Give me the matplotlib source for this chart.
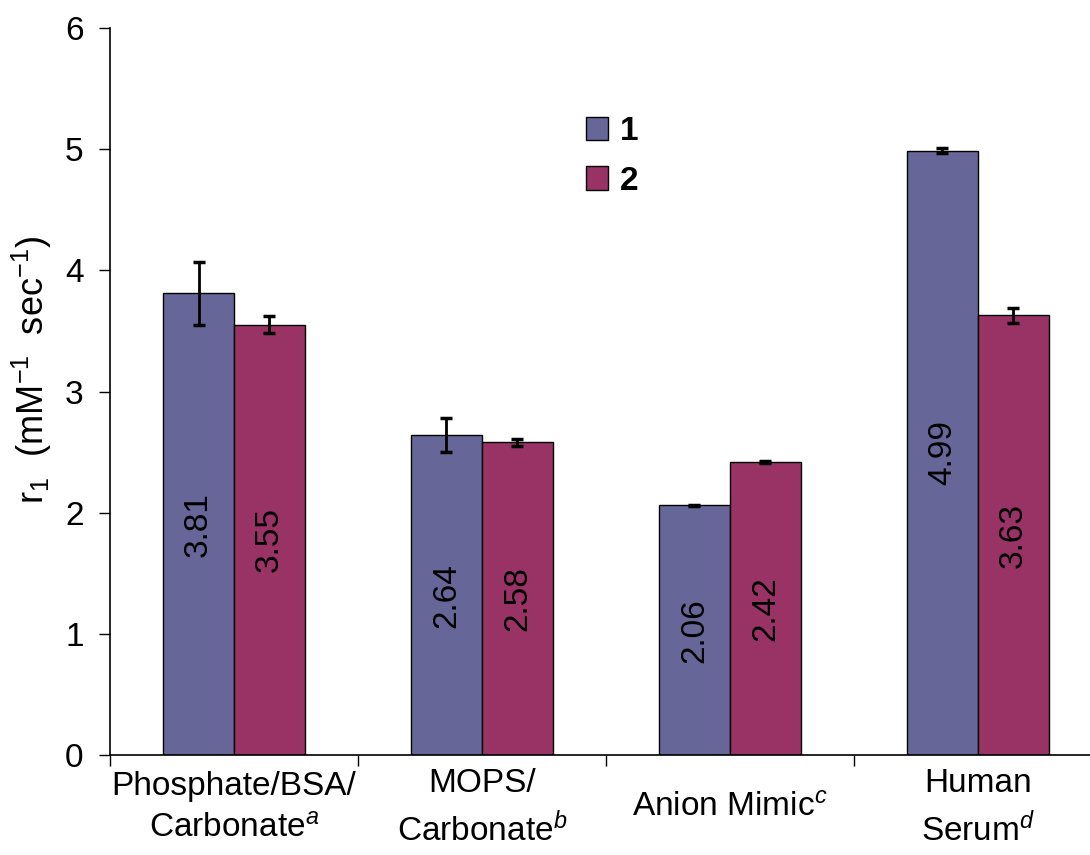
import numpy as np
import matplotlib
matplotlib.use('Agg')
import matplotlib.pyplot as plt

plt.rcParams['font.family'] = ['Liberation Sans', 'DejaVu Sans']
plt.rcParams['mathtext.fontset'] = 'custom'
plt.rcParams['mathtext.rm'] = 'Liberation Sans'
plt.rcParams['mathtext.it'] = 'Liberation Sans:italic'

# data
categories = ['Phosphate/BSA/\nCarbonate$^{a}$', 'MOPS/\nCarbonate$^{b}$',
              'Anion Mimic$^{c}$', 'Human\nSerum$^{d}$']
vals_1 = [3.81, 2.64, 2.06, 4.99]
vals_2 = [3.55, 2.58, 2.42, 3.63]
err_1 = [0.26, 0.14, 0.005, 0.02]
err_2 = [0.07, 0.03, 0.01, 0.06]
series_names = ['1', '2']
col_1 = '#666699'
col_2 = '#993366'

fig = plt.figure(figsize=(10.9, 8.55), dpi=100)
ax = fig.add_axes([0.1009, 0.117, 0.910, 0.850])

x = np.arange(len(categories))
w = 0.286
ax.bar(x - w/2, vals_1, w, color=col_1, edgecolor='black', linewidth=1, label=series_names[0])
ax.bar(x + w/2, vals_2, w, color=col_2, edgecolor='black', linewidth=1, label=series_names[1])
ax.errorbar(x - w/2, vals_1, yerr=err_1, fmt='none', ecolor='black', elinewidth=2, capsize=4, capthick=2.5)
ax.errorbar(x + w/2, vals_2, yerr=err_2, fmt='none', ecolor='black', elinewidth=2, capsize=4, capthick=2.5)

for xs, vs in [(x - w/2, vals_1), (x + w/2, vals_2)]:
    for xi, v in zip(xs, vs):
        ax.text(xi, v/2, '%.2f' % v, rotation=90, ha='center', va='center', fontsize=24)

ax.set_xlim(-0.5, 3.5)
ax.set_ylim(0, 6)
ax.set_yticks(range(7))
ax.tick_params(axis='y', labelsize=24, length=8, width=1, direction='out', pad=11)

ax.set_xticks(x)
ax.set_xticklabels(categories, fontsize=24, linespacing=1.45, va='center')
ax.tick_params(axis='x', which='major', length=0, pad=38)
ax.set_xticks(np.arange(-0.5, 4.0, 1.0), minor=True)
ax.tick_params(axis='x', which='minor', length=8, width=1, direction='out')

ax.spines['top'].set_visible(False)
ax.spines['right'].set_visible(False)
ax.spines['left'].set_linewidth(1.2)
ax.spines['bottom'].set_linewidth(1.2)

ax.set_ylabel('r$_1$  (mM$^{-1}$  sec$^{-1}$)', fontsize=26)
ax.yaxis.set_label_coords(-0.056, 0.53)

leg = ax.legend(loc='upper left', bbox_to_anchor=(0.45, 0.92), frameon=False,
                prop={'size': 24, 'weight': 'bold'}, handlelength=0.65, handleheight=0.7,
                handletextpad=0.35, labelspacing=0.55)

fig.savefig('out.png', dpi=100)
